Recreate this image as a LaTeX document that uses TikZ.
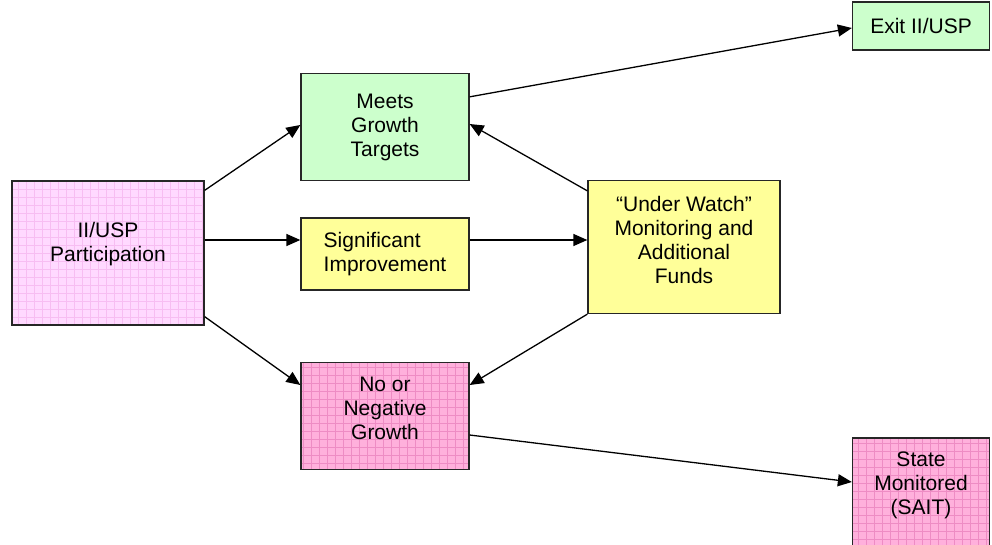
\documentclass[tikz,border=0pt]{standalone}
\usepackage{fontspec}
\setmainfont{Liberation Sans}
\usetikzlibrary{arrows.meta}
\definecolor{pinklight}{HTML}{FFD9FF}
\definecolor{pinkdark}{HTML}{FFB0DC}
\definecolor{gridlight}{HTML}{F7BDF2}
\definecolor{griddark}{HTML}{EE8CC4}
\definecolor{greenbox}{HTML}{CCFFCC}
\definecolor{yellowbox}{HTML}{FFFF99}
\begin{document}
\begin{tikzpicture}[
    x=1pt, y=-1pt,
    box/.style={draw=black!85, line width=1.3pt, align=center, inner sep=0pt,
        font=\fontsize{21}{24}\selectfont},
    gridded/.style={path picture={\draw[#1, line width=0.3pt, step=8pt]
        (path picture bounding box.south west) grid (path picture bounding box.north east);}},
    flow/.style={line width=1.3pt, -{Triangle[length=14pt,width=12pt]}},
    every node/.style={color=black}
    ]

\useasboundingbox (0,0) rectangle (992,545);

% boxes
\node[box, fill=pinklight, gridded=gridlight, minimum width=192pt, minimum height=144pt,
    text depth=23pt]
    (part) at (108,253) {II/USP\\Participation};
\node[box, fill=greenbox, minimum width=168pt, minimum height=107pt]
    (meets) at (385,127) {Meets\\Growth\\Targets};
\node[box, fill=yellowbox, minimum width=168pt, minimum height=72pt, align=left]
    (signif) at (385,254) {Significant\\Improvement};
\node[box, fill=yellowbox, minimum width=192pt, minimum height=133pt, text depth=14pt]
    (watch) at (684,247) {``Under Watch''\\Monitoring and\\Additional\\Funds};
\node[box, fill=pinkdark, gridded=griddark, minimum width=168pt, minimum height=107pt,
    text depth=16pt]
    (nogrowth) at (385,416) {No or\\Negative\\Growth};
\node[box, fill=greenbox, minimum width=137pt, minimum height=48pt]
    (exit) at (921,26) {Exit II/USP};
\node[box, fill=pinkdark, gridded=griddark, minimum width=137pt, minimum height=114pt,
    text depth=23pt]
    (state) at (921,495) {State\\Monitored\\(SAIT)};

% connectors
\draw[flow] (part.north east) ++(0,10) -- ([yshift=2pt]meets.west);
\draw[flow] ([yshift=13pt]part.east) -- ([yshift=14pt]signif.west);
\draw[flow] (part.south east) ++(0,-9) -- ([yshift=31pt]nogrowth.west);
\draw[flow] ([yshift=14pt]signif.east) -- ([yshift=7pt]watch.west);
\draw[flow] (watch.north west) ++(0,11) -- ([yshift=3pt]meets.east);
\draw[flow] (watch.south west) -- ([yshift=31pt]nogrowth.east);
\draw[flow] ([yshift=-24pt]meets.north east) -- ([yshift=-2pt]exit.west);
\draw[flow] ([yshift=-19pt]nogrowth.east) -- ([yshift=13pt]state.west);

\end{tikzpicture}
\end{document}
